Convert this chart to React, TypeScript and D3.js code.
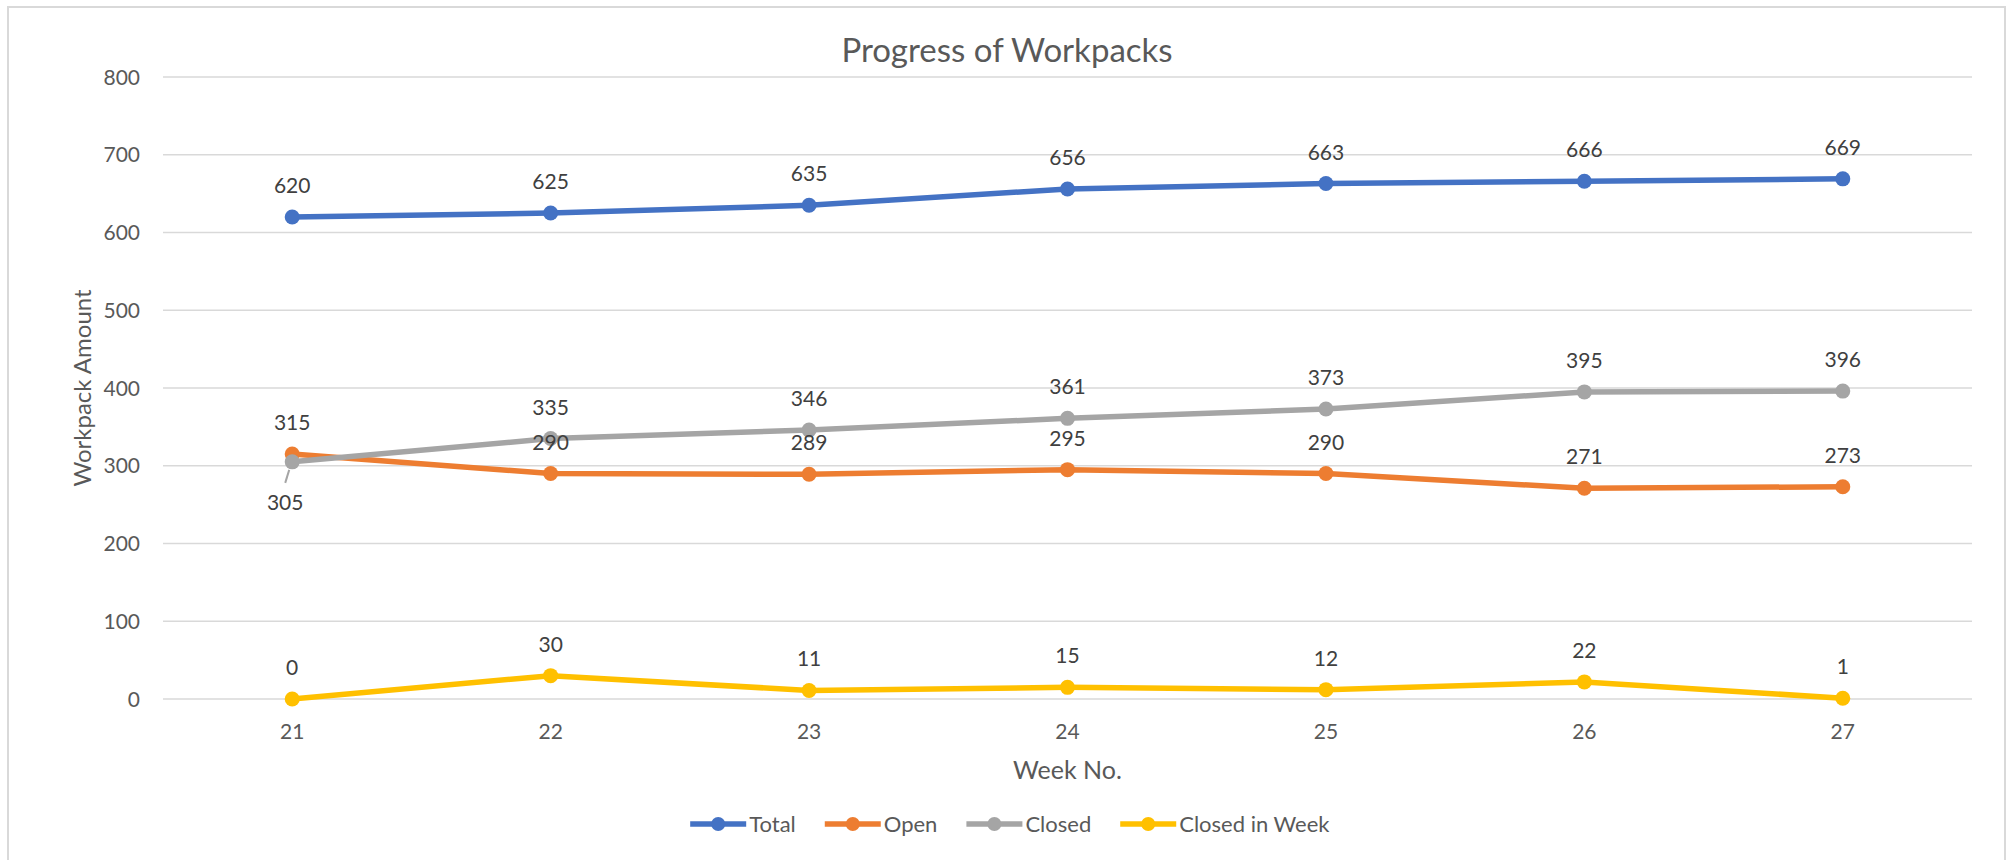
import React from 'react';
import * as d3 from 'd3';

// chart data
const weeks = ['21', '22', '23', '24', '25', '26', '27'];
const total = [620, 625, 635, 656, 663, 666, 669];
const open = [315, 290, 289, 295, 290, 271, 273];
const closed = [305, 335, 346, 361, 373, 395, 396];
const closedInWeek = [0, 30, 11, 15, 12, 22, 1];
const yTicks = [0, 100, 200, 300, 400, 500, 600, 700, 800];

const seriesNames = ['Total', 'Open', 'Closed', 'Closed in Week'];
const seriesColors = ['#4472C4', '#ED7D31', '#A5A5A5', '#FFC000'];
const seriesValues = [total, open, closed, closedInWeek];

const W = 2010;
const H = 860;
const FONT = 'Lato, "Open Sans", sans-serif';

function textWidth(txt: string, size: number) {
  const c = document.createElement('canvas').getContext('2d');
  if (!c) return txt.length * size * 0.5;
  c.font = size + 'px Lato';
  return c.measureText(txt).width;
}

export default function App() {
  const plot = { left: 163, right: 1972, top: 77, bottom: 699 };

  const x = d3.scalePoint<string>().domain(weeks).range([plot.left, plot.right]).padding(0.5);
  const y = d3.scaleLinear().domain([0, 800]).range([plot.bottom, plot.top]);

  const line = d3
    .line<number>()
    .x((d, i) => x(weeks[i]) as number)
    .y(d => y(d));

  //legend layout, centred below the chart
  const legendSize = 22;
  const lineLen = 56;
  const gap = 29;
  const widths = seriesNames.map(n => lineLen + 3 + textWidth(n, legendSize));
  const legendTotal = d3.sum(widths) + gap * (widths.length - 1);
  let lx = 1010 - legendTotal / 2;
  const legendX = widths.map(w => {
    const v = lx;
    lx += w + gap;
    return v;
  });

  return (
    <svg
      width={W}
      height={H}
      style={{ position: 'absolute', left: 0, top: 0, background: '#fff' }}
      fontFamily={FONT}
    >
      <rect x={8} y={7} width={1997} height={870} fill="#fff" stroke="#D9D9D9" strokeWidth={2} />

      <text x={1007} y={62} textAnchor="middle" fontSize={33} fill="#595959">
        Progress of Workpacks
      </text>

      {/* gridlines + y ticks */}
      {yTicks.map(t => (
        <g key={t}>
          <line x1={plot.left} x2={plot.right} y1={y(t)} y2={y(t)} stroke="#D9D9D9" strokeWidth={1.5} />
          <text x={140} y={y(t)} dy="0.36em" textAnchor="end" fontSize={21} fill="#595959">
            {t}
          </text>
        </g>
      ))}

      {/* x ticks */}
      {weeks.map(w => (
        <text key={w} x={x(w)} y={739} textAnchor="middle" fontSize={21} fill="#595959">
          {w}
        </text>
      ))}

      <text x={(plot.left + plot.right) / 2} y={779} textAnchor="middle" fontSize={25} fill="#595959">
        Week No.
      </text>
      <text
        transform={`translate(91,${(plot.top + plot.bottom) / 2}) rotate(-90)`}
        textAnchor="middle"
        fontSize={24}
        fill="#595959"
      >
        Workpack Amount
      </text>

      {/* lines */}
      {seriesValues.map((vals, s) => (
        <g key={seriesNames[s]}>
          <path d={line(vals) || ''} fill="none" stroke={seriesColors[s]} strokeWidth={5.5} strokeLinejoin="round" />
          {vals.map((v, i) => (
            <circle key={i} cx={x(weeks[i])} cy={y(v)} r={7.5} fill={seriesColors[s]} />
          ))}
        </g>
      ))}

      {/* data labels */}
      {seriesValues.map((vals, s) =>
        vals.map((v, i) => {
          const px = x(weeks[i]) as number;
          const py = y(v);
          // the first Closed label sits below its point with a leader line
          if (s === 2 && i === 0) {
            return (
              <g key={s + '-' + i}>
                <line x1={px - 3} y1={py + 8} x2={px - 7} y2={py + 21} stroke="#A5A5A5" strokeWidth={2} />
                <text x={px - 7} y={py + 48} textAnchor="middle" fontSize={21} fill="#404040">
                  {v}
                </text>
              </g>
            );
          }
          return (
            <text key={s + '-' + i} x={px} y={py - 24} textAnchor="middle" fontSize={21} fill="#404040">
              {v}
            </text>
          );
        })
      )}

      {/* legend */}
      {seriesNames.map((n, s) => (
        <g key={n} transform={`translate(${legendX[s]},824)`}>
          <line x1={0} x2={lineLen} y1={0} y2={0} stroke={seriesColors[s]} strokeWidth={5.5} />
          <circle cx={lineLen / 2} cy={0} r={7} fill={seriesColors[s]} />
          <text x={lineLen + 3} y={0} dy="0.36em" fontSize={legendSize} fill="#595959">
            {n}
          </text>
        </g>
      ))}
    </svg>
  );
}
